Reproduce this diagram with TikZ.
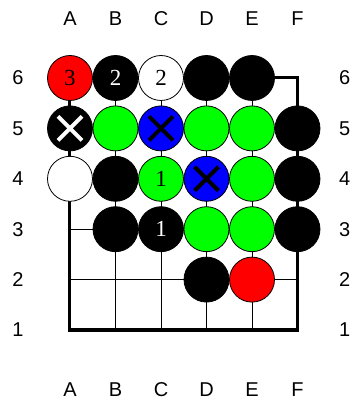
\documentclass[tikz,border=0pt]{standalone}
\usepackage{fontspec}
\setmainfont{Liberation Serif}
\setsansfont{Liberation Sans}
\usetikzlibrary{positioning}

\begin{document}
\begin{tikzpicture}[x=45.5pt, y=50.4pt,
  stone/.style={circle, draw, line width=0.8pt, minimum size=45pt, inner sep=0pt, font=\fontsize{23}{23}\selectfont},
  blk/.style={stone, fill=black, text=white}, wht/.style={stone, fill=white},
  grn/.style={stone, fill=green}, blu/.style={stone, fill=blue}, rd/.style={stone, fill=red},
  cross/.style={line width=4pt, shorten <=6pt, shorten >=6pt},
  lbl/.style={font=\sffamily\fontsize{20}{20}\selectfont, inner sep=0pt}]
\useasboundingbox (-24.5pt,-21.6pt) rectangle (326.5pt,380.4pt);
\foreach \k in {2,...,5} { \draw[line width=0.7pt] (\k,1) -- (\k,6); \draw[line width=0.7pt] (1,\k) -- (6,\k); }
\draw[line width=3pt] (1,1) rectangle (6,6);
\foreach \n/\c/\r/\s/\t in {a6/1/6/rd/3, b6/2/6/blk/2, c6/3/6/wht/2, d6/4/6/blk/{}, e6/5/6/blk/{},
  a5/1/5/blk/{}, b5/2/5/grn/{}, c5/3/5/blu/{}, d5/4/5/grn/{}, e5/5/5/grn/{}, f5/6/5/blk/{},
  a4/1/4/wht/{}, b4/2/4/blk/{}, c4/3/4/grn/1, d4/4/4/blu/{}, e4/5/4/grn/{}, f4/6/4/blk/{},
  b3/2/3/blk/{}, c3/3/3/blk/1, d3/4/3/grn/{}, e3/5/3/grn/{}, f3/6/3/blk/{},
  d2/4/2/blk/{}, e2/5/2/rd/{}}
  \node[\s] (\n) at (\c,\r) {\t};
\foreach \n/\col in {a5/white, c5/black, d4/black} {
  \draw[cross, \col] (\n.south west) -- (\n.north east);
  \draw[cross, \col] (\n.north west) -- (\n.south east);
}
\foreach \l [count=\i] in {A,...,F} { \node[lbl] (top\l) at (\i,7.17) {\l}; \node[lbl] (bot\l) at (\i,-0.19) {\l}; }
\foreach \i in {1,...,6} { \node[lbl] (left\i) at (-0.143,\i) {\i}; \node[lbl, anchor=west] (right\i) at (6.91,\i) {\i}; }
\end{tikzpicture}
\end{document}
